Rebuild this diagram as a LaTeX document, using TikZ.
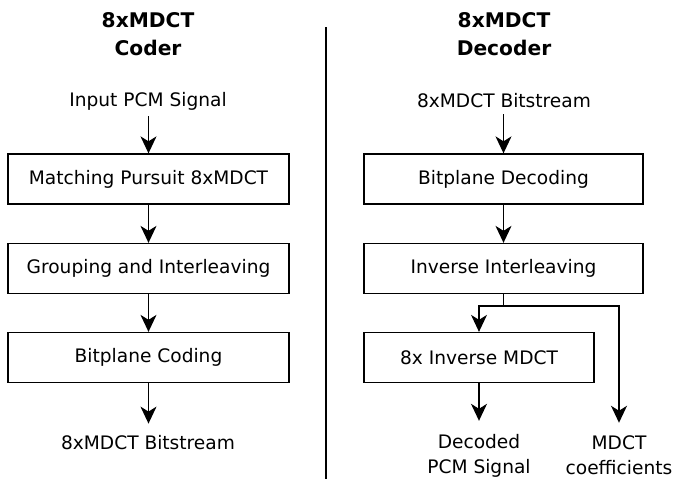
\documentclass[tikz,border=0pt]{standalone}
\usepackage{fontspec}
\setmainfont{DejaVu Sans}
\usetikzlibrary{arrows.meta}
\begin{document}
\begin{tikzpicture}[x=1pt,y=-1pt,
 box/.style={draw, line width=1.3pt, minimum height=50pt, inner sep=0pt, font=\fontsize{18.6}{25}\selectfont},
 lbl/.style={inner sep=0pt, align=center, font=\fontsize{18.6}{25}\selectfont},
 ttl/.style={inner sep=0pt, align=center, font=\fontsize{20.2}{28}\selectfont\bfseries},
 arr/.style={-{Stealth[length=17pt,width=16pt,inset=5pt]}, line width=1.3pt},
 ln/.style={line width=1.3pt}]
\useasboundingbox (0,0) rectangle (675,479);
% left column
\node[ttl] (tc) at (148,34) {8xMDCT\\Coder};
\node[lbl] (inp) at (148,101) {Input PCM Signal};
\node[box, minimum width=281pt] (mp) at (148.5,179) {Matching Pursuit 8xMDCT};
\node[box, minimum width=281pt] (gi) at (148.5,268.5) {Grouping and Interleaving};
\node[box, minimum width=281pt] (bc) at (148.5,357.5) {Bitplane Coding};
\node[lbl] (bso) at (148,443) {8xMDCT Bitstream};
\draw[arr, shorten <=6pt] (inp.south -| mp.north) -- (mp.north);
\draw[arr] (mp) -- (gi);
\draw[arr] (gi) -- (bc);
\draw[arr, shorten >=12pt] (bc.south) -- (bso.north -| bc.south);
% divider
\coordinate (dt) at (326,27);
\coordinate (db) at (326,479);
\draw[ln] (dt) -- (db);
% right column
\node[ttl] (td) at (504,34) {8xMDCT\\Decoder};
\node[lbl] (bsi) at (504,101) {8xMDCT Bitstream};
\node[box, minimum width=279pt] (bd) at (503.5,179) {Bitplane Decoding};
\node[box, minimum width=279pt] (ii) at (503.5,268.5) {Inverse Interleaving};
\node[box, minimum width=230pt] (im) at (479,357.5) {8x Inverse MDCT};
\node[lbl] (pcm) at (479,455.5) {Decoded\\PCM Signal};
\node[lbl] (co) at (619,455.5) {MDCT\\coefficients};
\coordinate (j) at (503.5,306);
\draw[arr, shorten <=6pt] (bsi.south -| bd.north) -- (bd.north);
\draw[arr] (bd) -- (ii);
\draw[ln] (ii.south) -- (j);
\draw[arr] (j) -| (im.north);
\draw[arr, shorten >=13pt] (j) -| (co.north);
\draw[arr, shorten >=13pt] (im.south) -- (pcm.north);
\end{tikzpicture}
\end{document}
